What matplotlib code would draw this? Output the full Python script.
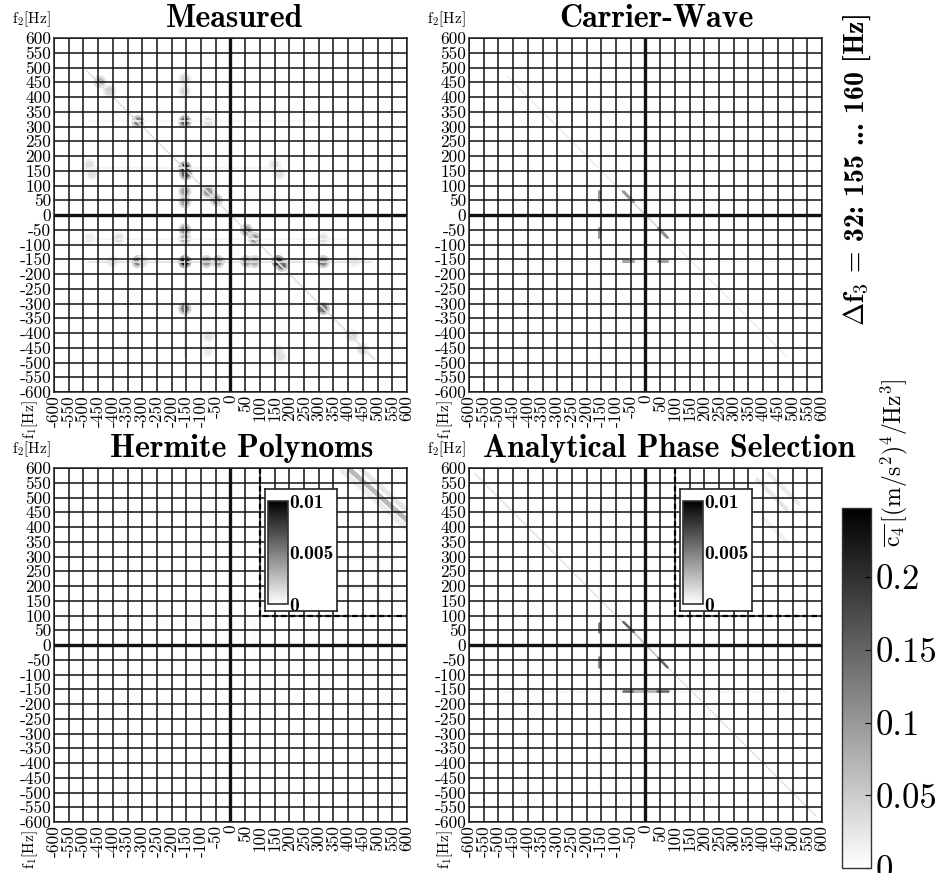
import numpy as np
from matplotlib import pyplot as plt
from matplotlib.collections import LineCollection
from matplotlib.colors import Normalize
from matplotlib.cm import ScalarMappable

plt.rcParams['font.family'] = ['cmr10', 'DejaVu Serif']
plt.rcParams['mathtext.fontset'] = 'cm'
plt.rcParams['axes.unicode_minus'] = False

# axes / colour scales
freq_ticks = list(range(-600, 601, 50))
titles = ['Measured', 'Carrier-Wave', 'Hermite Polynoms', 'Analytical Phase Selection']
cbar_ticks = [0, 0.05, 0.1, 0.15, 0.2]
cbar_labels = ['0', '0.05', '0.1', '0.15', '0.2']
inset_ticks = [0, 0.005, 0.01]
inset_labels = ['0', '0.005', '0.01']
c4_max = 0.2475
zoom_max = 0.01
zoom_corner = (100, 100)   # lower left corner of the zoomed region [Hz]

# peaks: (f1, f2, c4)
meas_peaks = [(-155, -158, 0.22), (-155, 160, 0.20), (-152, 140, 0.16), (-155, 317, 0.15),
              (-314, 317, 0.12), (-314, -158, 0.12), (-155, -317, 0.12), (315, -317, 0.13),
              (315, -158, 0.12), (162, -158, 0.20), (175, -170, 0.14), (-155, -50, 0.10),
              (-155, -80, 0.07), (-155, 80, 0.09), (-155, 45, 0.09), (-76, 79, 0.10),
              (-48, 51, 0.09), (54, -51, 0.10), (82, -80, 0.10), (-81, -158, 0.10),
              (-42, -158, 0.10), (54, -158, 0.09), (82, -158, 0.08), (-444, 451, 0.07),
              (-410, 420, 0.05), (-155, 420, 0.04), (-155, 460, 0.04), (-75, 315, 0.03),
              (-480, 170, 0.03), (-470, 140, 0.03), (150, 170, 0.03), (165, 140, 0.03),
              (-380, -80, 0.03), (-480, -80, 0.02), (315, -80, 0.03), (415, -410, 0.04),
              (450, -455, 0.04), (-75, -410, 0.03), (-75, -460, 0.02), (160, -460, 0.03),
              (170, -480, 0.03), (-300, -158, 0.04), (-400, -158, 0.03), (420, -158, 0.02)]
# faint ridges: (f1 start, f2 start, f1 end, f2 end, c4)
meas_ridges = [(-490, 490, 490, -490, 0.03), (-480, -158, 480, -158, 0.03),
               (-155, 480, -155, -480, 0.03), (-480, 160, 170, 160, 0.012),
               (-500, -80, 400, -80, 0.012), (-480, 320, 300, 320, 0.01)]

cw_segments = [(-158, 50, -158, 80, 0.10), (-158, -44, -158, -75, 0.10),
               (-75, 79, -41, 45, 0.10), (44, -45, 74, -76, 0.11),
               (-75, -157, -41, -157, 0.09), (44, -157, 74, -157, 0.09)]
cw_ridges = [(-470, 470, 480, -480, 0.02), (-470, -157, 470, -157, 0.01),
             (-158, 480, -158, -480, 0.01), (-40, 40, 40, -40, 0.04)]

herm_ridges = [(-300, 75, 80, 75, 0.004), (-300, -50, 80, -50, 0.004),
               (-50, 80, -50, -60, 0.004), (80, 80, 80, -60, 0.004)]
herm_zoom_ridges = [(407, 593, 600, 423, 0.0028), (440, 600, 600, 455, 0.0010),
                    (380, 590, 600, 395, 0.0008), (330, 300, 560, 300, 0.0004),
                    (330, 200, 560, 200, 0.0004), (500, 150, 500, 400, 0.0004)]

aps_segments = [(-158, 45, -158, 74, 0.14), (-158, -40, -158, -76, 0.13),
                (-75, 78, -40, 44, 0.15), (44, -44, 75, -76, 0.15),
                (-75, -157, -40, -157, 0.15), (-40, -157, 40, -157, 0.08),
                (40, -157, 75, -157, 0.15)]
aps_ridges = [(-580, 580, 580, -580, 0.03), (-480, -157, 480, -157, 0.012),
              (-158, 480, -158, -480, 0.012), (-40, 44, 44, -44, 0.06)]
aps_zoom_ridges = [(380, 560, 480, 460, 0.0010), (420, 580, 520, 480, 0.0008),
                   (400, 430, 480, 350, 0.0006)]


def draw_peaks(ax, peaks, norm):
    f1, f2, v = zip(*peaks)
    # soft halo + core so the peaks look blurred like the image
    ax.scatter(f1, f2, c=[x * 0.4 for x in v], s=90, cmap='gray_r', norm=norm,
               edgecolors='none', zorder=1)
    ax.scatter(f1, f2, c=v, s=35, cmap='gray_r', norm=norm, edgecolors='none', zorder=1.2)


def draw_ridges(ax, ridges, norm, lw):
    segs = [[(a, b), (c, d)] for a, b, c, d, _ in ridges]
    lc = LineCollection(segs, array=np.array([r[4] for r in ridges]), cmap='gray_r',
                        norm=norm, linewidths=lw, zorder=1.5, capstyle='round')
    ax.add_collection(lc)


def add_inset(fig, ax, norm_zoom):
    box = ax.inset_axes([0.598, 0.596, 0.204, 0.345])
    box.set_xticks([])
    box.set_yticks([])
    box.set_facecolor('white')
    box.set_zorder(6)
    for s in box.spines.values():
        s.set_color('#222222')
        s.set_linewidth(1.2)
    mini = ax.inset_axes([0.606, 0.616, 0.057, 0.291])
    mini.set_zorder(7)
    cb = fig.colorbar(ScalarMappable(norm=norm_zoom, cmap='gray_r'), cax=mini, ticks=inset_ticks)
    cb.ax.set_yticklabels(inset_labels, family='cmb10', fontsize=14)
    cb.ax.tick_params(length=0, pad=1)
    cb.outline.set_linewidth(1.2)
    cb.outline.set_edgecolor('#333333')
    ax.plot([zoom_corner[0], zoom_corner[0], 600], [600, zoom_corner[1], zoom_corner[1]],
            color='black', lw=1.6, ls=(0, (2.5, 1.5)), zorder=4)


fig = plt.figure(figsize=(9.37, 8.73), dpi=100)
W, H = 937, 873
corners = [(54, 38), (469, 38), (54, 468), (469, 468)]
title_x = [0.512, 0.53, 0.533, 0.566]
norm = Normalize(0, c4_max)
norm_zoom = Normalize(0, zoom_max)

axes = []
for (left, top), title, tx in zip(corners, titles, title_x):
    ax = fig.add_axes([left / W, 1 - (top + 354) / H, 353 / W, 354 / H])
    ax.set_xlim(-600, 600)
    ax.set_ylim(-600, 600)
    ax.set_xticks(freq_ticks)
    ax.set_xticklabels([str(t) for t in freq_ticks], rotation=90, fontsize=12.5)
    ax.set_yticks(freq_ticks)
    ax.set_yticklabels([str(t) for t in freq_ticks], fontsize=12.5)
    ax.tick_params(length=0, pad=2)
    ax.grid(True, color='#111111', lw=1.1)
    ax.set_axisbelow(False)
    ax.axhline(0, color='#111111', lw=2.4, zorder=3)
    ax.axvline(0, color='#111111', lw=2.4, zorder=3)
    for s in ax.spines.values():
        s.set_color('#333333')
        s.set_linewidth(1.2)
    ax.text(tx, 1.015, title, transform=ax.transAxes, ha='center', va='bottom',
            family='cmb10', fontsize=23)
    ax.text(-0.118, 1.052, r'f$_2$[Hz]', transform=ax.transAxes, ha='left', va='center',
            fontsize=11)
    ax.text(-0.068, -0.077, r'f$_1$[Hz]', transform=ax.transAxes, ha='center', va='center',
            rotation=90, fontsize=11)
    axes.append(ax)

ax_m, ax_c, ax_h, ax_a = axes

draw_peaks(ax_m, meas_peaks, norm)
draw_ridges(ax_m, meas_ridges, norm, 1.2)

draw_ridges(ax_c, cw_ridges, norm, 1.0)
draw_ridges(ax_c, cw_segments, norm, 2.2)

draw_ridges(ax_h, herm_ridges, norm, 3.0)
draw_ridges(ax_h, herm_zoom_ridges, norm_zoom, 3.5)
add_inset(fig, ax_h, norm_zoom)

draw_ridges(ax_a, aps_ridges, norm, 1.0)
draw_ridges(ax_a, aps_segments, norm, 1.8)
draw_ridges(ax_a, aps_zoom_ridges, norm_zoom, 3.0)
add_inset(fig, ax_a, norm_zoom)

# main colour bar
cax = fig.add_axes([842 / W, 5 / H, 29 / W, 360 / H])
cb = fig.colorbar(ScalarMappable(norm=norm, cmap='gray_r'), cax=cax, ticks=cbar_ticks)
cb.ax.set_yticklabels(cbar_labels, fontsize=25)
cb.ax.tick_params(direction='in', length=4, pad=3)
cb.outline.set_linewidth(1.0)
cb.outline.set_edgecolor('#333333')

fig.text(0.955, 0.47, r'$\overline{\mathrm{c}_4}\,[(\mathrm{m}/\mathrm{s}^2)^4/\mathrm{Hz}^3]$',
         rotation=90, ha='center', va='center', fontsize=17)
fig.text(0.915, 0.805, r'$\mathbf{\Delta f_3}$ = 32: 155 ... 160 [Hz]', family='cmb10',
         rotation=90, ha='center', va='center', fontsize=20)

fig.savefig('out.png', dpi=100)
